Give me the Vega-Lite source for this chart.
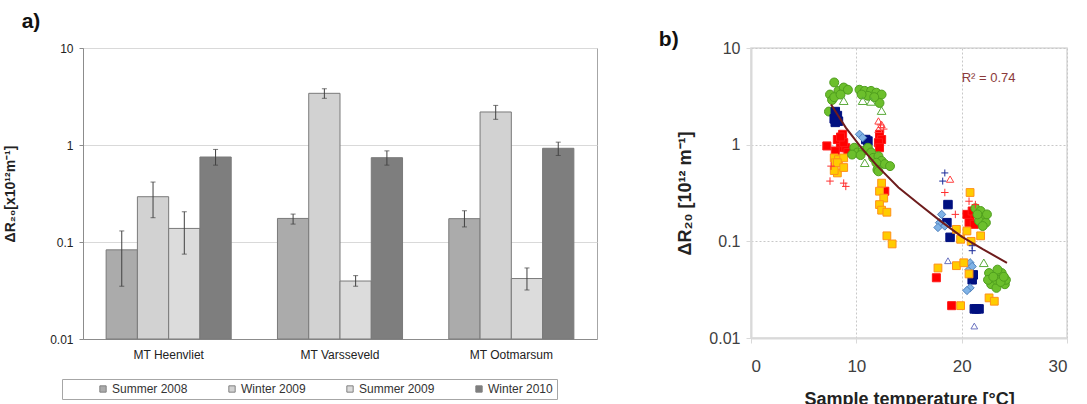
{
  "$schema": "https://vega.github.io/schema/vega-lite/v6.json",
  "background": "white",
  "padding": {"left": 3, "top": 10, "right": 5, "bottom": 0},
  "spacing": 60,
  "resolve": {
    "scale": {"fill": "independent", "stroke": "independent", "shape": "independent", "size": "independent"},
    "legend": {"fill": "independent", "stroke": "independent", "shape": "independent", "size": "independent"}
  },
  "config": {
    "font": "Liberation Sans",
    "title": {"font": "Liberation Sans Narrow, Liberation Sans", "fontWeight": "bold", "fontSize": 21, "color": "#111"}
  },
  "datasets": {
    "bars": [
      {"loc": "MT Heenvliet", "season": "Summer 2008", "value": 0.083, "lo": 0.035, "hi": 0.13},
      {"loc": "MT Heenvliet", "season": "Winter 2009", "value": 0.293, "lo": 0.178, "hi": 0.415},
      {"loc": "MT Heenvliet", "season": "Summer 2009", "value": 0.138, "lo": 0.075, "hi": 0.205},
      {"loc": "MT Heenvliet", "season": "Winter 2010", "value": 0.752, "lo": 0.62, "hi": 0.9},
      {"loc": "MT Varsseveld", "season": "Summer 2008", "value": 0.175, "lo": 0.153, "hi": 0.194},
      {"loc": "MT Varsseveld", "season": "Winter 2009", "value": 3.41, "lo": 3.03, "hi": 3.8},
      {"loc": "MT Varsseveld", "season": "Summer 2009", "value": 0.0396, "lo": 0.035, "hi": 0.045},
      {"loc": "MT Varsseveld", "season": "Winter 2010", "value": 0.74, "lo": 0.62, "hi": 0.87},
      {"loc": "MT Ootmarsum", "season": "Summer 2008", "value": 0.174, "lo": 0.143, "hi": 0.21},
      {"loc": "MT Ootmarsum", "season": "Winter 2009", "value": 2.19, "lo": 1.84, "hi": 2.56},
      {"loc": "MT Ootmarsum", "season": "Summer 2009", "value": 0.042, "lo": 0.032, "hi": 0.054},
      {"loc": "MT Ootmarsum", "season": "Winter 2010", "value": 0.925, "lo": 0.78, "hi": 1.07}
    ],
    "pts": [
      {"s": "g", "T": 7.9, "v": 4.4}, {"s": "g", "T": 7.5, "v": 3.3}, {"s": "g", "T": 7.7, "v": 2.9}, {"s": "g", "T": 8.3, "v": 3.6},
      {"s": "g", "T": 8.8, "v": 3.9}, {"s": "g", "T": 9.2, "v": 3.7}, {"s": "g", "T": 7.4, "v": 2.2}, {"s": "g", "T": 7.9, "v": 3.1},
      {"s": "g", "T": 8.5, "v": 3.3}, {"s": "g", "T": 10.3, "v": 3.7}, {"s": "g", "T": 10.8, "v": 3.6}, {"s": "g", "T": 11.4, "v": 3.6},
      {"s": "g", "T": 11.9, "v": 3.45}, {"s": "g", "T": 12.4, "v": 3.3}, {"s": "g", "T": 12.2, "v": 2.7}, {"s": "g", "T": 11.1, "v": 3.2},
      {"s": "g", "T": 10.5, "v": 3.3}, {"s": "g", "T": 11.7, "v": 3.1},
      {"s": "gt", "T": 8.8, "v": 2.85}, {"s": "gt", "T": 10.6, "v": 2.85}, {"s": "gt", "T": 11.4, "v": 2.8}, {"s": "gt", "T": 12.4, "v": 2.25},
      {"s": "gt", "T": 10.8, "v": 0.65}, {"s": "gt", "T": 22.1, "v": 0.06},
      {"s": "nv", "T": 8.0, "v": 2.2}, {"s": "nv", "T": 8.2, "v": 2.0}, {"s": "nv", "T": 7.9, "v": 1.85}, {"s": "nv", "T": 8.3, "v": 1.75},
      {"s": "nv", "T": 8.0, "v": 1.7}, {"s": "nv", "T": 11.1, "v": 1.09}, {"s": "nv", "T": 10.9, "v": 1.13}, {"s": "nv", "T": 18.7, "v": 0.24},
      {"s": "nv", "T": 18.6, "v": 0.156}, {"s": "nv", "T": 18.9, "v": 0.11}, {"s": "nv", "T": 21.0, "v": 0.04}, {"s": "nv", "T": 21.1, "v": 0.045},
      {"s": "nv", "T": 21.2, "v": 0.02}, {"s": "nv", "T": 21.65, "v": 0.02}, {"s": "nv", "T": 21.4, "v": 0.02},
      {"s": "lb", "T": 10.3, "v": 1.28}, {"s": "lb", "T": 10.6, "v": 1.18}, {"s": "lb", "T": 18.1, "v": 0.19}, {"s": "lb", "T": 17.9, "v": 0.156},
      {"s": "lb", "T": 17.75, "v": 0.139}, {"s": "lb", "T": 18.4, "v": 0.144}, {"s": "lb", "T": 20.8, "v": 0.06}, {"s": "lb", "T": 20.7, "v": 0.051},
      {"s": "lb", "T": 20.8, "v": 0.033}, {"s": "lb", "T": 20.5, "v": 0.031}, {"s": "lb", "T": 21.0, "v": 0.055},
      {"s": "r", "T": 7.2, "v": 0.97}, {"s": "r", "T": 8.2, "v": 1.13}, {"s": "r", "T": 8.7, "v": 1.28}, {"s": "r", "T": 8.5, "v": 0.93},
      {"s": "r", "T": 9.0, "v": 0.93}, {"s": "r", "T": 8.0, "v": 0.86}, {"s": "r", "T": 8.8, "v": 1.05}, {"s": "r", "T": 9.2, "v": 0.83},
      {"s": "r", "T": 8.5, "v": 1.2}, {"s": "r", "T": 12.2, "v": 1.28}, {"s": "r", "T": 12.4, "v": 1.13}, {"s": "r", "T": 12.1, "v": 1.05},
      {"s": "r", "T": 12.2, "v": 0.93}, {"s": "r", "T": 12.7, "v": 0.33}, {"s": "r", "T": 20.8, "v": 0.176}, {"s": "r", "T": 20.5, "v": 0.19},
      {"s": "r", "T": 21.0, "v": 0.206}, {"s": "r", "T": 20.7, "v": 0.156}, {"s": "r", "T": 21.2, "v": 0.15}, {"s": "r", "T": 17.6, "v": 0.042},
      {"s": "r", "T": 19.05, "v": 0.0216},
      {"s": "o", "T": 7.9, "v": 0.73}, {"s": "o", "T": 8.3, "v": 0.7}, {"s": "o", "T": 8.8, "v": 0.73}, {"s": "o", "T": 8.0, "v": 0.65},
      {"s": "o", "T": 8.2, "v": 0.65}, {"s": "o", "T": 8.2, "v": 0.51}, {"s": "o", "T": 8.8, "v": 0.58}, {"s": "o", "T": 7.9, "v": 0.54},
      {"s": "o", "T": 12.4, "v": 0.4}, {"s": "o", "T": 12.2, "v": 0.33}, {"s": "o", "T": 12.6, "v": 0.28}, {"s": "o", "T": 12.2, "v": 0.24},
      {"s": "o", "T": 12.4, "v": 0.21}, {"s": "o", "T": 12.9, "v": 0.2}, {"s": "o", "T": 12.9, "v": 0.114}, {"s": "o", "T": 13.4, "v": 0.094},
      {"s": "o", "T": 20.8, "v": 0.32}, {"s": "o", "T": 19.5, "v": 0.133}, {"s": "o", "T": 20.5, "v": 0.128}, {"s": "o", "T": 21.8, "v": 0.114},
      {"s": "o", "T": 19.9, "v": 0.105}, {"s": "o", "T": 17.75, "v": 0.053}, {"s": "o", "T": 19.5, "v": 0.056}, {"s": "o", "T": 20.2, "v": 0.06},
      {"s": "o", "T": 20.7, "v": 0.046}, {"s": "o", "T": 22.6, "v": 0.026}, {"s": "o", "T": 23.1, "v": 0.024}, {"s": "o", "T": 19.9, "v": 0.0216},
      {"s": "o", "T": 20.9, "v": 0.1},
      {"s": "g", "T": 9.8, "v": 0.93}, {"s": "g", "T": 10.1, "v": 0.83}, {"s": "g", "T": 9.6, "v": 0.79}, {"s": "g", "T": 10.6, "v": 0.86},
      {"s": "g", "T": 11.1, "v": 0.93}, {"s": "g", "T": 11.4, "v": 0.83}, {"s": "g", "T": 11.6, "v": 0.73}, {"s": "g", "T": 12.1, "v": 0.76},
      {"s": "g", "T": 12.4, "v": 0.68}, {"s": "g", "T": 12.7, "v": 0.63}, {"s": "g", "T": 13.2, "v": 0.6}, {"s": "g", "T": 11.9, "v": 0.65},
      {"s": "g", "T": 10.4, "v": 0.78}, {"s": "g", "T": 12.0, "v": 0.55}, {"s": "g", "T": 12.1, "v": 0.53},
      {"s": "g", "T": 21.3, "v": 0.22}, {"s": "g", "T": 21.8, "v": 0.206}, {"s": "g", "T": 22.1, "v": 0.176}, {"s": "g", "T": 21.65, "v": 0.163},
      {"s": "g", "T": 22.3, "v": 0.156}, {"s": "g", "T": 22.0, "v": 0.144}, {"s": "g", "T": 21.5, "v": 0.19}, {"s": "g", "T": 22.4, "v": 0.19},
      {"s": "g", "T": 22.6, "v": 0.047}, {"s": "g", "T": 23.8, "v": 0.047}, {"s": "g", "T": 22.8, "v": 0.036}, {"s": "g", "T": 24.1, "v": 0.036},
      {"s": "g", "T": 23.3, "v": 0.033}, {"s": "g", "T": 22.5, "v": 0.04}, {"s": "g", "T": 24.2, "v": 0.04}, {"s": "g", "T": 23.4, "v": 0.051},
      {"s": "g", "T": 23.3, "v": 0.04}, {"s": "g", "T": 23.0, "v": 0.043}, {"s": "g", "T": 23.7, "v": 0.038}, {"s": "g", "T": 24.0, "v": 0.043},
      {"s": "rp", "T": 7.5, "v": 0.42}, {"s": "rp", "T": 8.8, "v": 0.4}, {"s": "rp", "T": 9.0, "v": 0.37}, {"s": "rp", "T": 18.4, "v": 0.32},
      {"s": "rp", "T": 20.7, "v": 0.26}, {"s": "rp", "T": 21.3, "v": 0.24}, {"s": "rp", "T": 19.4, "v": 0.19}, {"s": "rp", "T": 12.3, "v": 1.6},
      {"s": "rp", "T": 12.6, "v": 1.45}, {"s": "rp", "T": 7.6, "v": 0.6},
      {"s": "rt", "T": 12.1, "v": 1.76}, {"s": "rt", "T": 12.4, "v": 1.62}, {"s": "rt", "T": 12.1, "v": 1.44}, {"s": "rt", "T": 18.9, "v": 0.44},
      {"s": "np", "T": 18.4, "v": 0.51}, {"s": "np", "T": 18.2, "v": 0.42}, {"s": "np", "T": 21.0, "v": 0.08}, {"s": "np", "T": 21.0, "v": 0.09},
      {"s": "bt", "T": 18.7, "v": 0.063}, {"s": "bt", "T": 21.2, "v": 0.0133}
    ],
    "fit": [
      {"T": 7.6, "v": 2.6}, {"T": 9.0, "v": 1.5}, {"T": 10.5, "v": 0.92}, {"T": 12.0, "v": 0.6}, {"T": 14.0, "v": 0.36},
      {"T": 16.0, "v": 0.24}, {"T": 18.0, "v": 0.162}, {"T": 20.0, "v": 0.112}, {"T": 22.0, "v": 0.083}, {"T": 24.3, "v": 0.06}
    ],
    "lab": [{"T": 20.0, "v": 4.9, "text": "R² = 0.74"}]
  },
  "hconcat": [
    {
      "width": 514,
      "height": 291,
      "title": {"text": "a)", "anchor": "start", "frame": "bounds", "offset": 10, "dx": 18},
      "view": {"stroke": "#a6a6a6", "strokeWidth": 1},
      "data": {"name": "bars"},
      "encoding": {
        "x": {
          "field": "loc", "type": "nominal", "sort": ["MT Heenvliet", "MT Varsseveld", "MT Ootmarsum"],
          "scale": {"paddingInner": 0.27, "paddingOuter": 0.135},
          "axis": {"title": null, "labelAngle": 0, "ticks": false, "labelPadding": 10, "labelFontSize": 12, "labelColor": "#222", "domainColor": "#8c8c8c"}
        },
        "xOffset": {"field": "season", "type": "nominal", "sort": ["Summer 2008", "Winter 2009", "Summer 2009", "Winter 2010"], "scale": {"paddingInner": 0, "paddingOuter": 0}}
      },
      "layer": [
        {
          "mark": {"type": "bar", "stroke": "#7a7a7a", "strokeWidth": 1},
          "encoding": {
            "y": {
              "field": "value", "type": "quantitative",
              "scale": {"type": "log", "domain": [0.01, 10]},
              "axis": {"values": [0.01, 0.1, 1, 10], "format": "~g", "title": "ΔR₂₀[x10¹²m⁻¹]", "titleFontSize": 14, "titleFontWeight": "bold", "titleColor": "#222", "titlePadding": 32, "labelFontSize": 12, "labelColor": "#222", "labelPadding": 6, "gridColor": "#d9d9d9", "domainColor": "#8c8c8c", "tickColor": "#8c8c8c", "tickSize": 4}
            },
            "y2": {"datum": 0.01},
            "fill": {
              "field": "season", "type": "nominal",
              "scale": {"domain": ["Summer 2008", "Winter 2009", "Summer 2009", "Winter 2010"], "range": ["#ababab", "#d2d2d2", "#dcdcdc", "#7e7e7e"]},
              "legend": {"orient": "none", "legendX": -21, "legendY": 331, "direction": "horizontal", "columns": 4, "title": " ", "titleOrient": "left", "titlePadding": 31, "columnPadding": 38, "padding": 4, "strokeColor": "#a6a6a6", "symbolType": "square", "symbolSize": 40, "symbolStrokeColor": "#808080", "symbolStrokeWidth": 1, "labelFontSize": 12, "labelColor": "#333", "labelOffset": 3}
            }
          }
        },
        {
          "mark": {"type": "rule", "color": "#404040", "strokeWidth": 1},
          "encoding": {"y": {"field": "lo", "type": "quantitative"}, "y2": {"field": "hi"}}
        },
        {
          "mark": {"type": "tick", "color": "#404040", "size": 5, "thickness": 1, "orient": "horizontal"},
          "encoding": {"y": {"field": "hi", "type": "quantitative"}}
        },
        {
          "mark": {"type": "tick", "color": "#404040", "size": 5, "thickness": 1, "orient": "horizontal"},
          "encoding": {"y": {"field": "lo", "type": "quantitative"}}
        }
      ]
    },
    {
      "width": 316,
      "height": 290,
      "title": {"text": "b)", "anchor": "start", "frame": "bounds", "offset": -10, "dx": -18},
      "view": {"stroke": "#d9d9d9", "strokeWidth": 1.5},
      "encoding": {
        "x": {
          "field": "T", "type": "quantitative",
          "scale": {"domain": [0, 30], "nice": false},
          "axis": {"values": [0, 10, 20, 30], "title": "Sample temperature [°C]", "titleFontSize": 18, "titleFontWeight": "bold", "titleColor": "#222", "titlePadding": 16, "labelFontSize": 17, "labelColor": "#404040", "labelPadding": 15, "gridColor": "#c8c8c8", "gridDash": [2, 2], "domainColor": "#d9d9d9", "domainWidth": 2, "tickColor": "#d9d9d9", "tickSize": 5}
        },
        "y": {
          "field": "v", "type": "quantitative",
          "scale": {"type": "log", "domain": [0.01, 10]},
          "axis": {"values": [0.01, 0.1, 1, 10], "format": "~g", "title": "ΔR₂₀ [10¹² m⁻¹]", "titleFontSize": 18, "titleFontWeight": "bold", "titleColor": "#222", "titlePadding": 14, "labelFontSize": 16, "labelColor": "#404040", "labelPadding": 6, "gridColor": "#c8c8c8", "gridDash": [2, 2], "domainColor": "#d9d9d9", "domainWidth": 2, "tickColor": "#d9d9d9", "tickSize": 5}
        }
      },
      "layer": [
        {
          "data": {"name": "pts"},
          "mark": {"type": "point", "filled": true, "opacity": 1, "strokeWidth": 1},
          "encoding": {
            "shape": {"field": "s", "type": "nominal", "legend": null, "scale": {"domain": ["g", "gt", "nv", "lb", "r", "o", "rp", "rt", "np", "bt"], "range": ["circle", "triangle-up", "square", "diamond", "square", "square", "M-1,0H1M0,-1V1", "triangle-up", "M-1,0H1M0,-1V1", "triangle-up"]}},
            "fill": {"field": "s", "type": "nominal", "legend": null, "scale": {"domain": ["g", "gt", "nv", "lb", "r", "o", "rp", "rt", "np", "bt"], "range": ["#6cbf2c", "transparent", "#001080", "#80b3e6", "#ff0000", "#ffcc00", "transparent", "transparent", "transparent", "transparent"]}},
            "stroke": {"field": "s", "type": "nominal", "legend": null, "scale": {"domain": ["g", "gt", "nv", "lb", "r", "o", "rp", "rt", "np", "bt"], "range": ["#4f9e1e", "#5aaa3a", "#001080", "#4f81bd", "#ff1a1a", "#ff9119", "#ff3030", "#ff4040", "#1a2a9a", "#6a72c0"]}},
            "size": {"field": "s", "type": "nominal", "legend": null, "scale": {"domain": ["g", "gt", "nv", "lb", "r", "o", "rp", "rt", "np", "bt"], "range": [80, 45, 40, 50, 40, 45, 45, 45, 45, 45]}}
          }
        },
        {
          "data": {"name": "fit"},
          "mark": {"type": "line", "color": "#6e1c1c", "strokeWidth": 2},
          "encoding": {}
        },
        {
          "data": {"name": "lab"},
          "mark": {"type": "text", "align": "left", "baseline": "middle", "fontSize": 13, "color": "#8b3a3a"},
          "encoding": {"text": {"field": "text"}}
        }
      ]
    }
  ]
}
